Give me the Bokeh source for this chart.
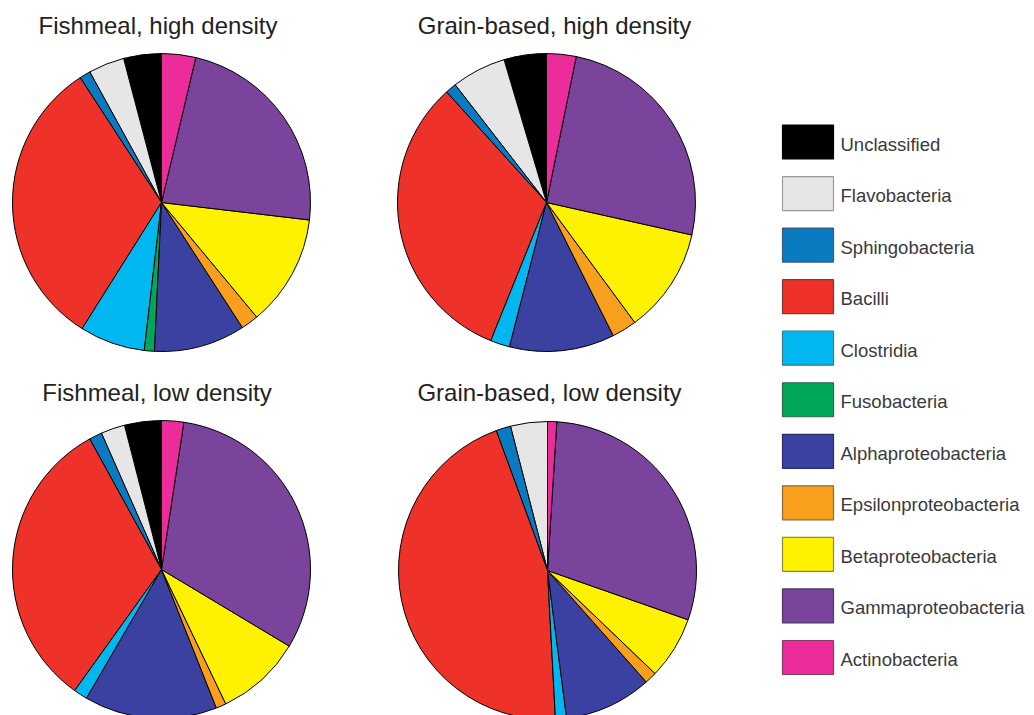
import numpy as np
from bokeh.plotting import figure
from bokeh.models import ColumnDataSource, Range1d
from bokeh.core.properties import value
from bokeh.embed import file_html
from bokeh.resources import INLINE

# ---- data (percent of reads, legend order = anticlockwise from 12 o'clock) ----
categories = ["Unclassified", "Flavobacteria", "Sphingobacteria", "Bacilli",
              "Clostridia", "Fusobacteria", "Alphaproteobacteria",
              "Epsilonproteobacteria", "Betaproteobacteria",
              "Gammaproteobacteria", "Actinobacteria"]
colors = ["#000000", "#e6e6e6", "#0b7bc1", "#ee3129", "#00b8ef", "#00a75a",
          "#3b41a0", "#f8a01d", "#fff200", "#7a439c", "#ed2c9b"]
border_colors = ["#000000", "#9a9a9a", "#3d5a78", "#7a3a38", "#3d7a90", "#2f6a48",
                 "#2a2d66", "#8a6a3a", "#8a8a3a", "#4e3a60", "#8a3a66"]

fishmeal_high = [4.1, 3.9, 1.2, 31.9, 7.1, 1.1, 9.9, 1.9, 12.1, 23.2, 3.7]
grain_high    = [4.6, 5.9, 1.2, 32.2, 2.1, 0.0, 11.4, 2.7, 11.4, 25.3, 3.2]
fishmeal_low  = [4.0, 2.6, 1.4, 32.1, 1.5, 0.0, 14.4, 1.1, 9.3, 31.2, 2.4]
grain_low     = [0.0, 4.0, 1.6, 45.3, 1.2, 0.0, 9.5, 1.3, 6.8, 29.4, 1.0]

panel_titles = ["Fishmeal, high density", "Grain-based, high density",
                "Fishmeal, low density", "Grain-based, low density"]
panel_series = [fishmeal_high, grain_high, fishmeal_low, grain_low]

# ---- layout (screen pixels of the page, converted to plot coords) ----
W, H = 1034, 715
def sx(X):
    return X
def sy(Y):
    return H - Y

pie_centers = [(161, 202), (546, 202), (161, 569), (547, 570)]
title_pos = [(157.5, 25), (554, 25), (156.5, 391.5), (549, 391.5)]
R = 149

p = figure(width=W, height=H, x_range=Range1d(0, W), y_range=Range1d(0, H),
           output_backend="svg", toolbar_location=None, min_border=0,
           x_axis_location=None, y_axis_location=None)
p.grid.visible = False
p.outline_line_color = None
p.background_fill_color = "white"
p.border_fill_color = "white"

for (cx, cy), vals in zip(pie_centers, panel_series):
    v = np.array(vals, dtype=float)
    frac = v / v.sum()
    cum = np.concatenate([[0.0], np.cumsum(frac)])
    start = np.pi / 2 + 2 * np.pi * cum[:-1]
    end = np.pi / 2 + 2 * np.pi * cum[1:]
    keep = v > 0
    src = ColumnDataSource(dict(
        x=[sx(cx)] * int(keep.sum()),
        y=[sy(cy)] * int(keep.sum()),
        start=list(start[keep]),
        end=list(end[keep]),
        color=[c for c, k in zip(colors, keep) if k],
        name=[n for n, k in zip(categories, keep) if k],
    ))
    p.wedge(x="x", y="y", radius=R, start_angle="start", end_angle="end",
            fill_color="color", line_color="black", line_width=1, source=src)

# titles
tsrc = ColumnDataSource(dict(x=[sx(a) for a, b in title_pos],
                             y=[sy(b) for a, b in title_pos],
                             t=panel_titles))
p.text(x="x", y="y", text="t", source=tsrc, text_align="center",
       text_baseline="alphabetic", text_font=value("Liberation Sans"),
       text_font_size=value("24px"), text_color="#222222")

# legend
n = len(categories)
box_y = [141.5 + 51.55 * i for i in range(n)]
lsrc = ColumnDataSource(dict(
    x=[sx(807.5)] * n,
    y=[sy(Y) for Y in box_y],
    ty=[sy(Y + 2.0) for Y in box_y],
    tx=[sx(840)] * n,
    color=colors, border=border_colors, label=categories))
p.rect(x="x", y="y", width=51, height=34, fill_color="color",
       line_color="border", line_width=1.2, source=lsrc)
p.text(x="tx", y="ty", text="label", source=lsrc, text_align="left",
       text_baseline="alphabetic", text_font=value("Liberation Sans"),
       text_font_size=value("18.5px"), text_color="#3a3a3a")

open("out.html", "w").write(file_html(p, INLINE))
